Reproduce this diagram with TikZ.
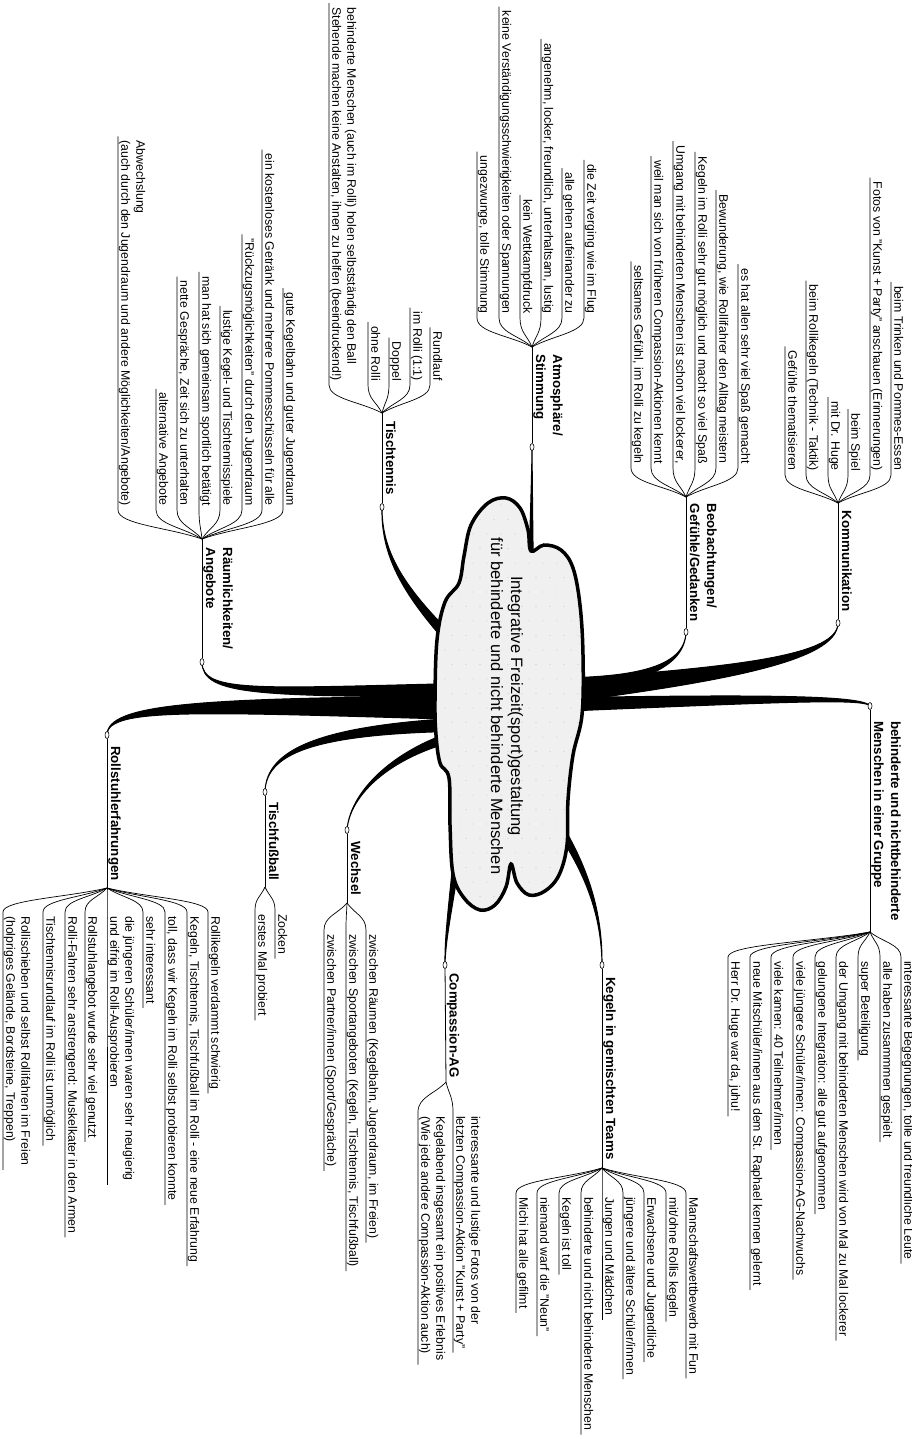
\documentclass[tikz,border=0pt]{standalone}
\usepackage{fontspec}
\setmainfont{Liberation Sans}
\usetikzlibrary{calc,shapes.geometric}

\newcommand{\wedgebranch}[5]{%
  \filldraw[line width=1pt,line join=round] ($(#1)+(#2)$) .. controls ($(#3)+0.6*(#2)$) and ($(#4)+0.15*(#2)$) .. (#5)
    .. controls ($(#4)-0.15*(#2)$) and ($(#3)-0.6*(#2)$) .. ($(#1)-(#2)$) -- cycle;}
\newcommand{\cloudshape}{plot[smooth cycle,tension=0.6] coordinates {(435,700) (437,640) (445,602) (459,583) (464,556) (471,525) (488,503) (506,498) (520,508) (528,530) (531,551) (544,545) (561,550) (573,568) (580,605) (583,655) (582,715) (573,755) (568,800) (567,845) (559,875) (545,891) (529,895) (517,883) (511,864) (506,887) (495,905) (480,910) (464,898) (453,874) (450,825) (449,778) (440,763) (436,735)}}

\begin{document}
\begin{tikzpicture}[x=1pt,y=-1pt,
  leaf/.style={rotate=-90,font=\fontsize{12.3}{15}\selectfont,inner xsep=4pt,inner ysep=0.6pt,text depth=2.6pt,align=left},
  leafL/.style={leaf,anchor=south east},
  leafR/.style={leaf,anchor=south west},
  branch/.style={rotate=-90,font=\fontsize{13.3}{17}\selectfont\bfseries,inner xsep=1pt,inner ysep=0.6pt,text depth=3pt,align=left,anchor=south,midway},
  twig/.style={to path={.. controls ($(\tikztostart)!0.4!(\tikztotarget)$) and ($(\tikztotarget)!0.5!(\tikztotarget |- \tikztostart)$) .. (\tikztotarget)}},
  twigline/.style={line width=0.7pt},
  stem/.style={line width=0.8pt},
  knob/.style={ellipse,draw,fill=white,line width=0.6pt,minimum width=4pt,minimum height=7pt,inner sep=0pt}
]
  \useasboundingbox (0,0) rectangle (912,1439);

  \coordinate (kK) at (838,623);  \coordinate (hK) at (838,503);
  \coordinate (kB) at (686,632);  \coordinate (hB) at (686,497);
  \coordinate (kA) at (532,447);  \coordinate (hA) at (532,347);
  \coordinate (kT) at (382,507);  \coordinate (hT) at (382,413);
  \coordinate (kR) at (202,662);  \coordinate (hR) at (202,539);
  \coordinate (kG) at (870,706);  \coordinate (hG) at (870,932);
  \coordinate (kM) at (602,965);  \coordinate (hM) at (602,1168);
  \coordinate (kC) at (445,965);  \coordinate (hC) at (446,1082);
  \coordinate (kW) at (347,830);  \coordinate (hW) at (347,903);
  \coordinate (kF) at (265,792);  \coordinate (hF) at (265,887);
  \coordinate (kS) at (107,735);  \coordinate (hS) at (107,888);

  \wedgebranch{531,610}{3,0}{531,540}{532,490}{kA}
  \wedgebranch{470,660}{4,-4}{410,600}{381,560}{kT}
  \wedgebranch{480,690}{0,7}{260,692}{202,695}{kR}
  \wedgebranch{480,708}{0,12}{200,705}{107,705}{kS}
  \wedgebranch{480,724}{0,7}{320,728}{266,750}{kF}
  \wedgebranch{480,730}{0,6}{400,745}{350,790}{kW}
  \wedgebranch{460,830}{4,0}{452,900}{445,935}{kC}
  \wedgebranch{540,800}{4,-3}{585,860}{602,910}{kM}
  \wedgebranch{545,705}{0,7}{780,698}{864,697}{kG}
  \wedgebranch{545,693}{0,12}{720,675}{838,660}{kK}
  \wedgebranch{545,686}{0,8}{630,683}{685,670}{kB}

  \fill[black!6] \cloudshape;
  \begin{scope}
    \clip \cloudshape;
    \foreach \i in {0,...,11}
      \foreach \j in {0,...,28}
        \fill[black!35] ({445+14*\i+7*mod(\j,2)},{505+14.5*\j}) circle (0.45);
  \end{scope}
  \draw[line width=3.5pt] \cloudshape;
  \node (title) at (507,706) [rotate=-90,align=center,font=\fontsize{16.5}{20}\selectfont] {Integrative Freizeit(sport)gestaltung\\für behinderte und nicht behinderte Menschen};

  \node (oK) at (kK) [knob] {};
  \node (oB) at (kB) [knob] {};
  \node (oA) at (kA) [knob] {};
  \node (oT) at (kT) [knob] {};
  \node (oR) at (kR) [knob] {};
  \node (oG) at (kG) [knob] {};
  \node (oM) at (kM) [knob] {};
  \node (oC) at (kC) [knob] {};
  \node (oW) at (kW) [knob] {};
  \node (oF) at (kF) [knob] {};
  \node (oS) at (kS) [knob] {};

  \draw[stem] (oK) -- node[branch] {Kommunikation} (hK);
  \draw[stem] (oB) -- node[branch] {Beobachtungen/\\Gefühle/Gedanken} (hB);
  \draw[stem] (oA) -- node[branch] {Atmosphäre/\\Stimmung} (hA);
  \draw[stem] (oT) -- node[branch] {Tischtennis} (hT);
  \draw[stem] (oR) -- node[branch] {Räumlichkeiten/\\Angebote} (hR);
  \draw[stem] (oG) -- node[branch] {behinderte und nichtbehinderte\\Menschen in einer Gruppe} (hG);
  \draw[stem] (oM) -- node[branch] {Kegeln in gemischten Teams} (hM);
  \draw[stem] (oC) -- node[branch] {Compassion-AG} (hC);
  \draw[stem] (oW) -- node[branch] {Wechsel} (hW);
  \draw[stem] (oF) -- node[branch] {Tischfußball} (hF);
  \draw[stem] (oS) -- node[branch] {Rollstuhlerfahrungen} (hS);

  \node (K1) at (891,475) [leafL] {beim Trinken und Pommes-Essen};
  \draw[twigline] (hK) to[twig] (K1.south east) -- (K1.south west);
  \node (K2) at (870,475) [leafL] {Fotos von "Kunst + Party" anschauen (Erinnerungen)};
  \draw[twigline] (hK) to[twig] (K2.south east) -- (K2.south west);
  \node (K3) at (848,475) [leafL] {beim Spiel};
  \draw[twigline] (hK) to[twig] (K3.south east) -- (K3.south west);
  \node (K4) at (828,475) [leafL] {mit Dr. Huge};
  \draw[twigline] (hK) to[twig] (K4.south east) -- (K4.south west);
  \node (K5) at (806,475) [leafL] {beim Rollikegeln (Technik - Taktik)};
  \draw[twigline] (hK) to[twig] (K5.south east) -- (K5.south west);
  \node (K6) at (785,475) [leafL] {Gefühle thematisieren};
  \draw[twigline] (hK) to[twig] (K6.south east) -- (K6.south west);

  \node (B1) at (738,468) [leafL] {es hat allen sehr viel Spaß gemacht};
  \draw[twigline] (hB) to[twig] (B1.south east) -- (B1.south west);
  \node (B2) at (716,468) [leafL] {Bewunderung, wie Rollifahrer den Alltag meistern};
  \draw[twigline] (hB) to[twig] (B2.south east) -- (B2.south west);
  \node (B3) at (695,468) [leafL] {Kegeln im Rolli sehr gut möglich und macht so viel Spaß};
  \draw[twigline] (hB) to[twig] (B3.south east) -- (B3.south west);
  \node (B4) at (673,468) [leafL] {Umgang mit behinderten Menschen ist schon viel lockerer,};
  \draw[twigline] (hB) to[twig] (B4.south east) -- (B4.south west);
  \node (B5) at (651,468) [leafL] {weil man sich von früheren Compassion-Aktionen kennt};
  \draw[twigline] (hB) to[twig] (B5.south east) -- (B5.south west);
  \node (B6) at (631,468) [leafL] {seltsames Gefühl, im Rolli zu kegeln};
  \draw[twigline] (hB) to[twig] (B6.south east) -- (B6.south west);

  \node (A1) at (584,318) [leafL] {die Zeit verging wie im Flug};
  \draw[twigline] (hA) to[twig] (A1.south east) -- (A1.south west);
  \node (A2) at (562,318) [leafL] {alle gehen aufeinander zu};
  \draw[twigline] (hA) to[twig] (A2.south east) -- (A2.south west);
  \node (A3) at (541,318) [leafL] {angenehm, locker, freundlich, unterhaltsam, lustig};
  \draw[twigline] (hA) to[twig] (A3.south east) -- (A3.south west);
  \node (A4) at (520,318) [leafL] {kein Wettkampfdruck};
  \draw[twigline] (hA) to[twig] (A4.south east) -- (A4.south west);
  \node (A5) at (499,318) [leafL] {keine Verständigungsschwierigkeiten oder Spannungen};
  \draw[twigline] (hA) to[twig] (A5.south east) -- (A5.south west);
  \node (A6) at (477,318) [leafL] {ungezwunge, tolle Stimmung};
  \draw[twigline] (hA) to[twig] (A6.south east) -- (A6.south west);

  \node (T1) at (430,385) [leafL] {Rundlauf};
  \draw[twigline] (hT) to[twig] (T1.south east) -- (T1.south west);
  \node (T2) at (410,385) [leafL] {im Rolli (1:1)};
  \draw[twigline] (hT) to[twig] (T2.south east) -- (T2.south west);
  \node (T3) at (389,385) [leafL] {Doppel};
  \draw[twigline] (hT) to[twig] (T3.south east) -- (T3.south west);
  \node (T4) at (368,385) [leafL] {ohne Rolli};
  \draw[twigline] (hT) to[twig] (T4.south east) -- (T4.south west);
  \node (T5) at (329,385) [leafL] {behinderte Menschen (auch im Rolli) holen selbstständig den Ball\\Stehende machen keine Anstalten, ihnen zu helfen (beeindruckend!)};
  \draw[twigline] (hT) to[twig] (T5.south east) -- (T5.south west);

  \node (R1) at (283,510) [leafL] {gute Kegelbahn und guter Jugendraum};
  \draw[twigline] (hR) to[twig] (R1.south east) -- (R1.south west);
  \node (R2) at (262,510) [leafL] {ein kostenloses Getränk und mehrere Pommesschüsseln für alle};
  \draw[twigline] (hR) to[twig] (R2.south east) -- (R2.south west);
  \node (R3) at (242,510) [leafL] {"Rückzugsmöglichkeiten" durch den Jugendraum};
  \draw[twigline] (hR) to[twig] (R3.south east) -- (R3.south west);
  \node (R4) at (220,510) [leafL] {lustige Kegel- und Tischtennisspiele};
  \draw[twigline] (hR) to[twig] (R4.south east) -- (R4.south west);
  \node (R5) at (199,510) [leafL] {man hat sich gemeinsam sportlich betätigt};
  \draw[twigline] (hR) to[twig] (R5.south east) -- (R5.south west);
  \node (R6) at (177,510) [leafL] {nette Gespräche, Zeit sich zu unterhalten};
  \draw[twigline] (hR) to[twig] (R6.south east) -- (R6.south west);
  \node (R7) at (156,510) [leafL] {alternative Angebote};
  \draw[twigline] (hR) to[twig] (R7.south east) -- (R7.south west);
  \node (R8) at (118,510) [leafL] {Abwechslung\\(auch durch den Jugendraum und andere Möglichkeiten/Angebote)};
  \draw[twigline] (hR) to[twig] (R8.south east) -- (R8.south west);

  \node (G1) at (901,957) [leafR] {interessante Begegnungen, tolle und freundliche Leute};
  \draw[twigline] (hG) to[twig] (G1.south west) -- (G1.south east);
  \node (G2) at (880,957) [leafR] {alle haben zusammmen gespielt};
  \draw[twigline] (hG) to[twig] (G2.south west) -- (G2.south east);
  \node (G3) at (858,957) [leafR] {super Beteiligung};
  \draw[twigline] (hG) to[twig] (G3.south west) -- (G3.south east);
  \node (G4) at (836,957) [leafR] {der Umgang mit behinderten Menschen wird von Mal zu Mal lockerer};
  \draw[twigline] (hG) to[twig] (G4.south west) -- (G4.south east);
  \node (G5) at (815,957) [leafR] {gelungene Integration: alle gut aufgenommen};
  \draw[twigline] (hG) to[twig] (G5.south west) -- (G5.south east);
  \node (G6) at (793,957) [leafR] {viele jüngere Schüler/innen: Compassion-AG-Nachwuchs};
  \draw[twigline] (hG) to[twig] (G6.south west) -- (G6.south east);
  \node (G7) at (771,957) [leafR] {viele kamen: 40 Teilnehmer/innen};
  \draw[twigline] (hG) to[twig] (G7.south west) -- (G7.south east);
  \node (G8) at (750,957) [leafR] {neue Mitschüler/innen aus dem St. Raphael kennen gelernt};
  \draw[twigline] (hG) to[twig] (G8.south west) -- (G8.south east);
  \node (G9) at (728,957) [leafR] {Herr Dr. Huge war da, juhu!};
  \draw[twigline] (hG) to[twig] (G9.south west) -- (G9.south east);

  \node (M1) at (686,1193) [leafR] {Mannschaftswettbewerb mit Fun};
  \draw[twigline] (hM) to[twig] (M1.south west) -- (M1.south east);
  \node (M2) at (666,1193) [leafR] {mit/ohne Rollis kegeln};
  \draw[twigline] (hM) to[twig] (M2.south west) -- (M2.south east);
  \node (M3) at (644,1193) [leafR] {Erwachsene und Jugendliche};
  \draw[twigline] (hM) to[twig] (M3.south west) -- (M3.south east);
  \node (M4) at (623,1193) [leafR] {jüngere und ältere Schüler/innen};
  \draw[twigline] (hM) to[twig] (M4.south west) -- (M4.south east);
  \node (M5) at (602,1193) [leafR] {Jungen und Mädchen};
  \draw[twigline] (hM) to[twig] (M5.south west) -- (M5.south east);
  \node (M6) at (581,1193) [leafR] {behinderte und nicht behinderte Menschen};
  \draw[twigline] (hM) to[twig] (M6.south west) -- (M6.south east);
  \node (M7) at (559,1193) [leafR] {Kegeln ist toll};
  \draw[twigline] (hM) to[twig] (M7.south west) -- (M7.south east);
  \node (M8) at (537,1193) [leafR] {niemand warf die "Neun"};
  \draw[twigline] (hM) to[twig] (M8.south west) -- (M8.south east);
  \node (M9) at (516,1193) [leafR] {Michi hat alle gefilmt};
  \draw[twigline] (hM) to[twig] (M9.south west) -- (M9.south east);

  \node (C1) at (453,1112) [leafR] {interessante und lustige Fotos von der\\letzten Compassion-Aktion "Kunst + Party"};
  \draw[twigline] (hC) to[twig] (C1.south west) -- (C1.south east);
  \node (C2) at (418,1112) [leafR] {Kegelabend insgesamt ein positives Erlebnis\\(Wie jede andere Compassion-Aktion auch)};
  \draw[twigline] (hC) to[twig] (C2.south west) -- (C2.south east);

  \node (W1) at (366,930) [leafR] {zwischen Räumen (Kegelbahn, Jugendraum, im Freien)};
  \draw[twigline] (hW) to[twig] (W1.south west) -- (W1.south east);
  \node (W2) at (346,930) [leafR] {zwischen Sportangeboten (Kegeln, Tischtennis, Tischfußball)};
  \draw[twigline] (hW) to[twig] (W2.south west) -- (W2.south east);
  \node (W3) at (324,930) [leafR] {zwischen Partner/innen (Sport/Gespräche)};
  \draw[twigline] (hW) to[twig] (W3.south west) -- (W3.south east);

  \node (F1) at (275,910) [leafR] {Zocken};
  \draw[twigline] (hF) to[twig] (F1.south west) -- (F1.south east);
  \node (F2) at (255,910) [leafR] {erstes Mal probiert};
  \draw[twigline] (hF) to[twig] (F2.south west) -- (F2.south east);

  \node (S1) at (208,912) [leafR] {Rollikegeln verdammt schwierig};
  \draw[twigline] (hS) to[twig] (S1.south west) -- (S1.south east);
  \node (S2) at (187,912) [leafR] {Kegeln, Tischtennis, Tischfußball im Rolli - eine neue Erfahrung};
  \draw[twigline] (hS) to[twig] (S2.south west) -- (S2.south east);
  \node (S3) at (165,912) [leafR] {toll, dass wir Kegeln im Rolli selbst probieren konnte};
  \draw[twigline] (hS) to[twig] (S3.south west) -- (S3.south east);
  \node (S4) at (143,912) [leafR] {sehr interessant};
  \draw[twigline] (hS) to[twig] (S4.south west) -- (S4.south east);
  \node (S5) at (107,912) [leafR] {die jüngeren Schüler/innen waren sehr neugierig\\und eifrig im Rolli-Ausprobieren};
  \draw[twigline] (hS) to[twig] (S5.south west) -- (S5.south east);
  \node (S6) at (85,912) [leafR] {Rollstuhlangebot wurde sehr viel genutzt};
  \draw[twigline] (hS) to[twig] (S6.south west) -- (S6.south east);
  \node (S7) at (65,912) [leafR] {Rolli-Fahren sehr anstrengend: Muskelkater in den Armen};
  \draw[twigline] (hS) to[twig] (S7.south west) -- (S7.south east);
  \node (S8) at (43,912) [leafR] {Tischtennisrundlauf im Rolli ist unmöglich};
  \draw[twigline] (hS) to[twig] (S8.south west) -- (S8.south east);
  \node (S9) at (3,912) [leafR] {Rollischieben und selbst Rollifahren im Freien\\(holpriges Gelände, Bordsteine, Treppen)};
  \draw[twigline] (hS) to[twig] (S9.south west) -- (S9.south east);
\end{tikzpicture}
\end{document}
